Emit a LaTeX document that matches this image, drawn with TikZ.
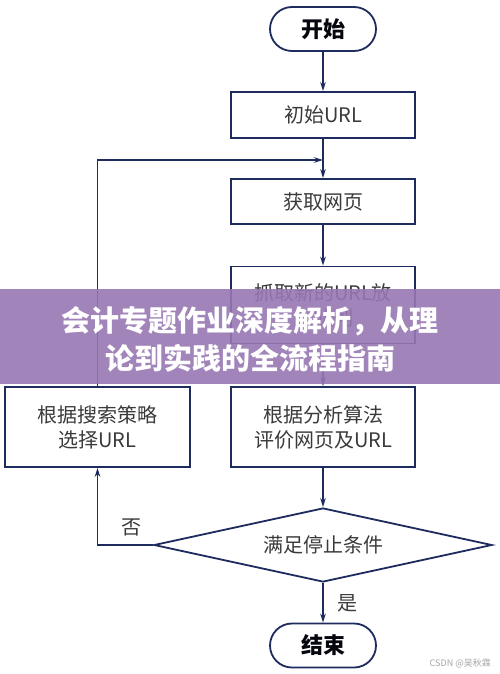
\documentclass[tikz,border=0pt]{standalone}
\usepackage{fontspec}
\setmainfont{Noto Sans CJK SC}
\newfontfamily\cjk{Noto Sans CJK SC}
\usetikzlibrary{shapes.geometric,arrows.meta}
\definecolor{lineblue}{HTML}{1E2B5E}
\definecolor{txtgray}{HTML}{3A3A3A}
\definecolor{banner}{HTML}{9777B3}
\tikzset{
  flowline/.style={draw=lineblue, line width=1.8pt},
  arrowline/.style={flowline, -{Stealth[length=9pt,width=5.5pt]}},
  procbox/.style={flowline, rectangle, minimum width=184pt, inner sep=0pt, text=txtgray, font=\cjk\fontsize{20}{25}\selectfont, align=center},
  pill/.style={flowline, rectangle, rounded corners=22pt, minimum width=106pt, minimum height=44pt, inner sep=0pt, text=black!85!lineblue, font=\cjk\bfseries\fontsize{22}{26}\selectfont},
  decision/.style={flowline, diamond, aspect=4.57, minimum width=338pt, minimum height=74pt, inner sep=0pt, text=txtgray, font=\cjk\fontsize{20}{25}\selectfont},
  lbl/.style={text=txtgray, font=\cjk\fontsize{20}{25}\selectfont, inner sep=0pt},
  bannertext/.style={text=white, font=\cjk\bfseries\fontsize{29}{38}\selectfont, align=center, inner sep=0pt}
}
\begin{document}
\begin{tikzpicture}[x=1pt,y=-1pt]
\useasboundingbox[fill=white] (0,0) rectangle (500,674);
\node[pill] (start) at (323,29) {开始};
\node[procbox, minimum height=46pt] (init) at (323,115) {初始URL};
\node[procbox, minimum height=45pt] (fetch) at (323,201.5) {获取网页};
\node[procbox, minimum height=77pt] (grab) at (323,305) {抓取新的URL放\\入队列};
\node[procbox, minimum height=80pt] (eval) at (323,427) {根据分析算法\\评价网页及URL};
\node[procbox, minimum height=80pt, minimum width=185pt] (sel) at (97.5,427) {根据搜索策略\\选择URL};
\node[decision] (cond) at (323,545) {满足停止条件};
\node[pill] (end) at (323,645.5) {结束};
\coordinate (join) at (323,160);
\draw[arrowline] (start) -- (init);
\draw[arrowline] (init) -- (fetch);
\draw[arrowline] (fetch) -- (grab);
\draw[arrowline] (grab) -- (eval);
\draw[arrowline] (eval) -- (cond);
\draw[arrowline] (cond) -- (end);
\draw[arrowline] (sel.north) |- (join);
\draw[arrowline] (cond.west) -| (sel.south);
\node[lbl] (no) at (131,527) {否};
\node[lbl] (yes) at (347,603) {是};
\node[text=gray!70, font=\cjk\fontsize{9}{11}\selectfont, anchor=east, inner sep=0pt] (wm) at (491,663) {CSDN @吴秋霖};
\fill[banner, fill opacity=0.9] (0,289) rectangle (500,384);
\node[bannertext] (title) at (250,339) {会计专题作业深度解析，从理\\论到实践的全流程指南};
\end{tikzpicture}
\end{document}
